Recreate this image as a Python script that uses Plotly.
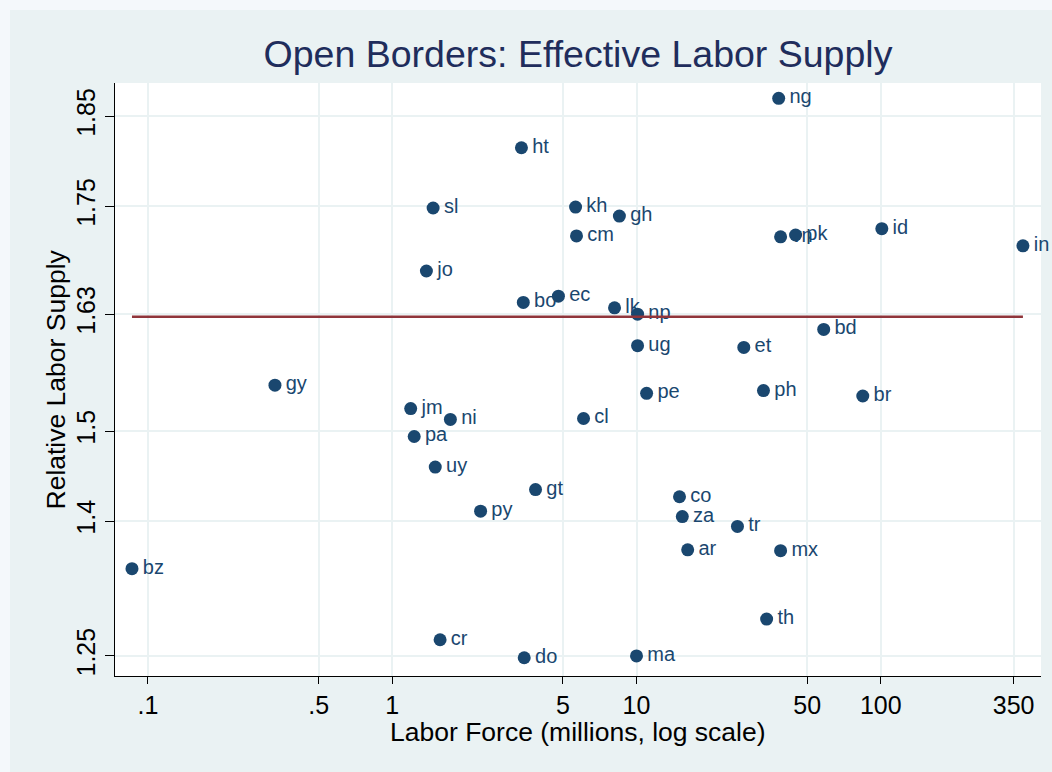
import plotly.graph_objects as go

# ---- data ----
countries = ["ng", "ht", "sl", "kh", "gh", "cm", "vn", "pk", "id", "in",
             "jo", "ec", "bo", "lk", "np", "bd", "ug", "et", "gy", "ph",
             "pe", "br", "jm", "ni", "cl", "pa", "uy", "gt", "co", "py",
             "za", "tr", "ar", "mx", "bz", "th", "cr", "do", "ma"]
labor_force = [38.2, 3.38, 1.47, 5.63, 8.51, 5.68, 38.9, 44.8, 101, 382,
               1.38, 4.79, 3.44, 8.13, 10.1, 58.4, 10.1, 27.5, 0.331, 33.1,
               11.0, 84.4, 1.19, 1.73, 6.07, 1.23, 1.50, 3.86, 15.0, 2.30,
               15.4, 25.9, 16.2, 38.9, 0.086, 34.1, 1.57, 3.47, 10.0]
relative_supply = [1.870, 1.815, 1.748, 1.749, 1.739, 1.717, 1.716, 1.718, 1.725, 1.706,
                   1.678, 1.650, 1.643, 1.637, 1.630, 1.613, 1.595, 1.593, 1.551, 1.545,
                   1.542, 1.539, 1.525, 1.513, 1.514, 1.494, 1.460, 1.435, 1.427, 1.411,
                   1.405, 1.394, 1.368, 1.367, 1.347, 1.291, 1.268, 1.248, 1.250]
fit_level = 1.627

x_tickvals = [0.1, 0.5, 1, 5, 10, 50, 100, 350]
x_ticktext = [".1", ".5", "1", "5", "10", "50", "100", "350"]
y_tickvals = [1.25, 1.4, 1.5, 1.63, 1.75, 1.85]
y_ticktext = ["1.25", "1.4", "1.5", "1.63", "1.75", "1.85"]

NAVY = "#1a476f"
MAROON = "#90353b"
FONT = "Liberation Sans, Arial, sans-serif"

fig = go.Figure()

fig.add_trace(go.Scatter(
    x=labor_force, y=relative_supply, mode="markers+text",
    text=["\u200a" + c for c in countries], textposition="middle right",
    textfont=dict(family=FONT, size=20, color=NAVY),
    marker=dict(size=13, color=NAVY, line=dict(width=0)),
    hoverinfo="text", showlegend=False, cliponaxis=False,
))

xmin, xmax = min(labor_force), max(labor_force)
fig.add_trace(go.Scatter(
    x=[xmin, xmax], y=[fit_level, fit_level], mode="lines",
    line=dict(color=MAROON, width=2.5), showlegend=False, hoverinfo="skip",
))

W, H = 1052, 772
L, R, T, B = 115, 11, 83, 96
pw, ph = W - L - R, H - T - B

def px_x(p):
    return (p - L) / pw

def px_y(p):
    return (H - B - p) / ph

fig.update_layout(
    width=W, height=H,
    margin=dict(l=L, r=R, t=T, b=B, autoexpand=False),
    paper_bgcolor="#f4f8fb",
    plot_bgcolor="rgba(0,0,0,0)",
    font=dict(family=FONT, color="black"),
    title=dict(text="Open Borders: Effective Labor Supply",
               x=0.5, xanchor="center", xref="paper",
               y=1 - 54 / H, yanchor="middle",
               font=dict(family=FONT, size=37.5, color="#1f2d5c")),
    shapes=[
        dict(type="rect", xref="paper", yref="paper",
             x0=px_x(10), x1=px_x(W + 5), y0=px_y(H + 5), y1=px_y(10),
             fillcolor="#eaf2f3", line=dict(width=0), layer="below"),
        dict(type="rect", xref="paper", yref="paper",
             x0=0, x1=1, y0=0, y1=1,
             fillcolor="white", line=dict(width=0), layer="below"),
    ],
    annotations=[
        dict(text="Labor Force (millions, log scale)", xref="paper", yref="paper",
             x=0.5, y=px_y(731.5), xanchor="center", yanchor="middle",
             showarrow=False, font=dict(family=FONT, size=26.5, color="black")),
        dict(text="Relative Labor Supply", xref="paper", yref="paper",
             x=px_x(55), y=0.5, xanchor="center", yanchor="middle", textangle=-90,
             showarrow=False, font=dict(family=FONT, size=26.5, color="black")),
    ],
)

fig.update_xaxes(
    type="log", range=[-1.135, 2.656], automargin=False,
    tickvals=x_tickvals, ticktext=x_ticktext,
    tickfont=dict(size=25, color="black"),
    ticks="outside", ticklen=7, tickcolor="black", tickwidth=1,
    showline=True, linecolor="black", linewidth=1.2, mirror=False,
    showgrid=True, gridcolor="#eaf2f3", gridwidth=2, zeroline=False,
)
fig.update_yaxes(
    range=[1.2277, 1.887], automargin=False,
    tickvals=y_tickvals, ticktext=y_ticktext, tickangle=-90,
    tickfont=dict(size=25, color="black"),
    ticks="outside", ticklen=9, tickcolor="black", tickwidth=1,
    showline=True, linecolor="black", linewidth=1.2, mirror=False,
    showgrid=True, gridcolor="#eaf2f3", gridwidth=2, zeroline=False,
)

fig.write_html("out.html", config={"displayModeBar": False},
               post_script="document.body.style.margin='0';document.body.style.overflow='hidden';")
